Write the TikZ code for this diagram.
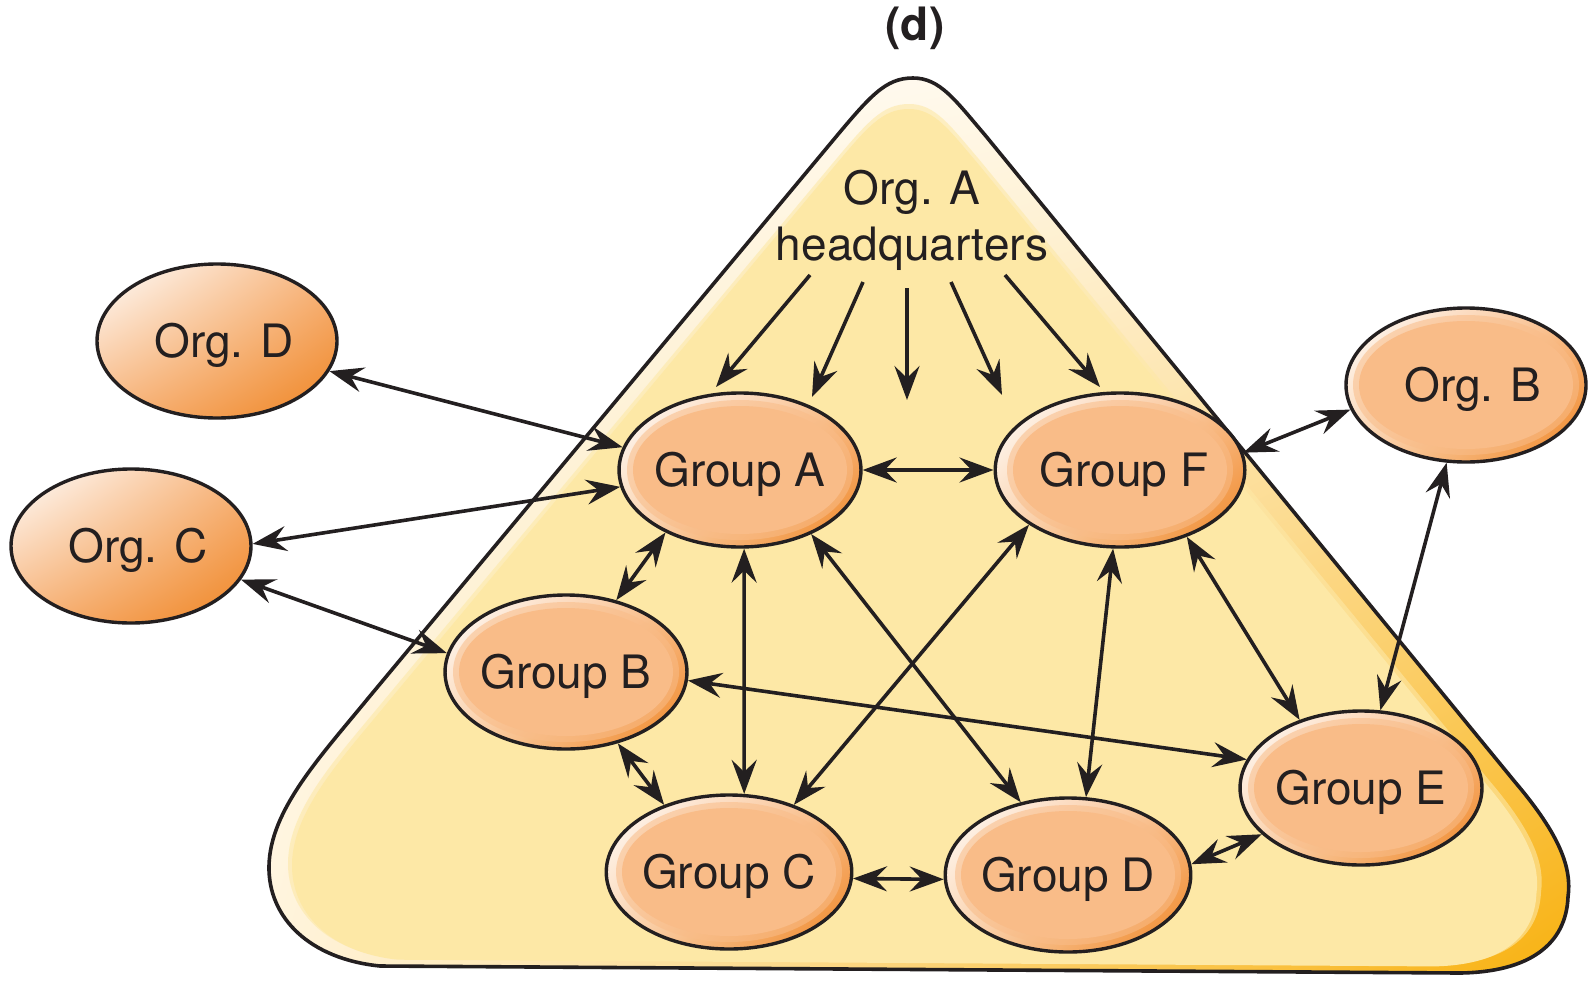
\documentclass[tikz,border=0pt]{standalone}
\usepackage{fontspec}
\setmainfont{TeX Gyre Heros}
\usetikzlibrary{arrows.meta,shapes.geometric,shadings}

\definecolor{ink}{HTML}{231F20}
\definecolor{paleyellow}{HTML}{FDE8A6}
\definecolor{gold}{HTML}{F8B10F}
\definecolor{cream}{HTML}{FFF4DC}
\definecolor{deeporange}{HTML}{EF8421}
\definecolor{peach}{HTML}{F9BC88}
\definecolor{peachlight}{HTML}{FBD5B2}
\definecolor{peachmid}{HTML}{F7B47C}

% outline of the organisation (rounded triangle), pixel-style coordinates
\newcommand\orgoutline{(830,144) .. controls (870,96) and (885,78) .. (913,78)
  .. controls (940,78) and (955,100) .. (985,135) -- (1515,782)
  .. controls (1560,835) and (1572,868) .. (1568,897)
  .. controls (1566,944) and (1530,972) .. (1460,973) -- (380,966)
  .. controls (310,959) and (268,918) .. (269,866)
  .. controls (270,810) and (320,757) .. (370,696) -- cycle}

\tikzset{
  labelfont/.style={font=\fontsize{46}{56}\selectfont},
  blob/.style={ellipse, draw=ink, line width=3.4pt, minimum width=240pt,
    minimum height=154pt, inner sep=0pt, text=ink, labelfont,
    text height=33pt, text depth=0pt},
  orgnode/.style={blob, shade, upper left=white, upper right=peachmid,
    lower left=peachmid, lower right=deeporange},
  grpnode/.style={blob, shade, upper left=white, upper right=peach,
    lower left=peachlight, lower right=deeporange,
    path picture={
      \fill[peach, opacity=0.55] (path picture bounding box.center)
        ellipse [x radius=113pt, y radius=70pt];
      \fill[peach] (path picture bounding box.center)
        ellipse [x radius=107pt, y radius=64pt];
    }},
  conn/.style={draw=ink, line width=3.6pt, {Stealth[length=34pt, width=25pt, inset=12pt]}-{Stealth[length=34pt, width=25pt, inset=12pt]}},
  oneway/.style={draw=ink, line width=3.6pt, -{Stealth[length=34pt, width=25pt, inset=12pt]}},
}

\begin{document}
\begin{tikzpicture}[x=1pt, y=-1pt]
\useasboundingbox (0,0) rectangle (1595,980);

% organisation body: shaded rim, pale interior, outline
\shade[upper left=white, upper right=cream, lower left=cream, lower right=gold] \orgoutline;
\begin{scope}[shift={(288,104)}, xscale=0.9646, yscale=0.962, shift={(-269,-78)}]
  \fill[paleyellow, opacity=0.6] \orgoutline;
\end{scope}
\begin{scope}[shift={(292,109)}, xscale=0.958, yscale=0.958, shift={(-269,-78)}]
  \fill[paleyellow] \orgoutline;
\end{scope}
\draw[ink, line width=3.6pt] \orgoutline;

% title and headquarters label
\node[labelfont, font=\bfseries\fontsize{46}{56}\selectfont, text=ink] (title) at (915,28) {(d)};
\node[labelfont, text=ink, anchor=north, inner sep=0pt, align=center] (HQ) at (912,170) {Org. A\\headquarters};

% organisations and groups
\node[orgnode] (OD) at (217,341) {\hspace*{14pt}Org. D};
\node[orgnode] (OC) at (131,546) {\hspace*{14pt}Org. C};
\node[grpnode] (OB) at (1466,385) {\hspace*{14pt}Org. B};
\node[grpnode] (GA) at (740,470) {Group A};
\node[grpnode] (GF) at (1120,470) {\hspace*{8pt}Group F};
\node[grpnode] (GB) at (566,672) {Group B};
\node[grpnode] (GC) at (729,872) {Group C};
\node[grpnode] (GD) at (1068,875) {Group D};
\node[grpnode] (GE) at (1361,788) {Group E};

% directives from headquarters
\coordinate (h1) at (810,275); \coordinate (t1) at (716,387);
\coordinate (h2) at (863,282); \coordinate (t2) at (812,397);
\coordinate (h3) at (907,288); \coordinate (t3) at (907,400);
\coordinate (h4) at (951,282); \coordinate (t4) at (1002,395);
\coordinate (h5) at (1005,275); \coordinate (t5) at (1100,387);
\draw[oneway] (h1) -- (t1);
\draw[oneway] (h2) -- (t2);
\draw[oneway] (h3) -- (t3);
\draw[oneway] (h4) -- (t4);
\draw[oneway] (h5) -- (t5);

% two-way links
\draw[conn] (OD.-15) -- (GA.169);
\draw[conn] (GA.188) -- (OC.1);
\draw[conn] (OC.-17) -- (GB.171);
\draw[conn] (GA.east) -- (GF.west);
\draw[conn] (GF.8) -- (OB.192);
\draw[conn] (GA.220) -- (GB.55);
\draw[conn] (GA.-87) -- (GC.79);
\draw[conn] (GA.-42) -- (GD.123);
\draw[conn] (GF.-149) -- (GC.46);
\draw[conn] (GF.-95) -- (GD.77);
\draw[conn] (GF.-45) -- (GE.132);
\draw[conn] (OB.-104) -- (GE.76);
\draw[conn] (GB.-4) -- (GE.166);
\draw[conn] (GB.-54) -- (GC.134);
\draw[conn] (GC.-3) -- (GD.182);
\draw[conn] (GD.5) -- (GE.205);
\end{tikzpicture}
\end{document}
